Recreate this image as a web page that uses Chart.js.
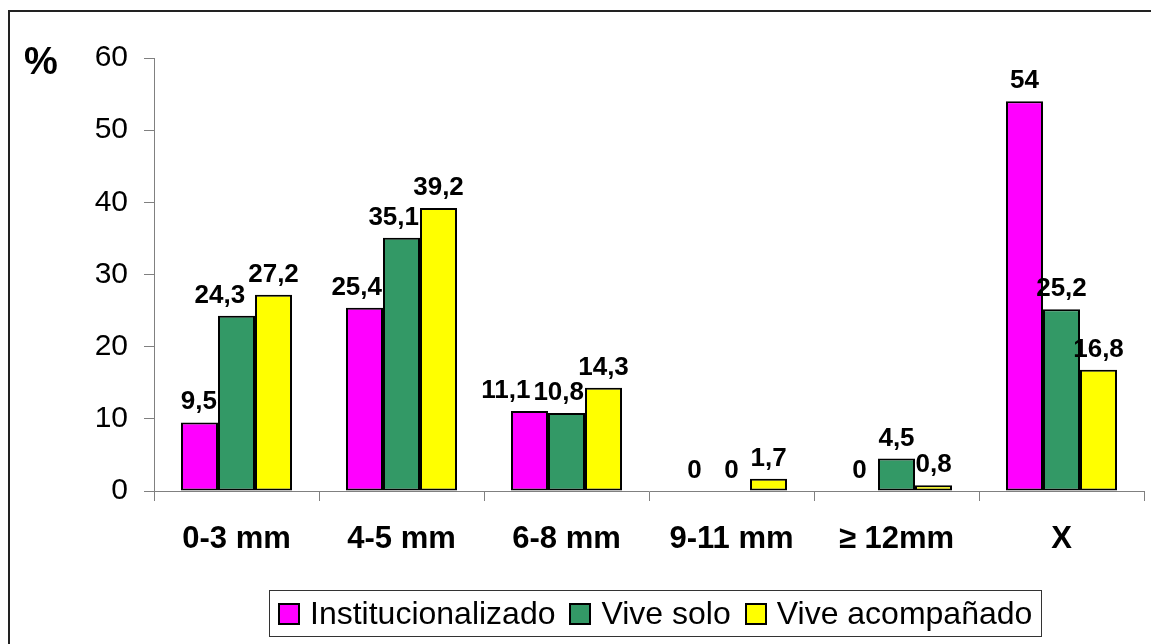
<html>

<head>
    <meta charset="utf-8">
    <title>Distribución por tamaño</title>
    <style>
        html,
        body {
            margin: 0;
            background: #fff;
            font-family: "Liberation Sans", Arial, sans-serif;
        }

        #frame {
            position: absolute;
            left: 8px;
            top: 10px;
            width: 1200px;
            height: 700px;
            border-top: 2px solid #222;
            border-left: 2px solid #222;
        }

        #legend {
            position: absolute;
            left: 269px;
            top: 590px;
            width: 763px;
            height: 45px;
            padding-left: 8px;
            border: 1px solid #333;
            display: flex;
            align-items: center;
            font-size: 32px;
            color: #000;
            white-space: nowrap;
        }

        #legend .box {
            display: inline-block;
            width: 18px;
            height: 18px;
            border: 2px solid #000;
            margin: 0 10px 0 0;
        }

        #legend .item {
            display: flex;
            align-items: center;
            margin-right: 14px;
        }
    </style>
</head>

<body>
    <div id="frame"></div>
    <canvas id="chart" width="1151" height="644" style="position:absolute;left:0;top:0;"></canvas>
    <div id="legend"></div>

    <script src="https://cdn.jsdelivr.net/npm/chart.js@4"></script>
    <script>
        // categorias y valores (%)
        var categories = ['0-3 mm', '4-5 mm', '6-8 mm', '9-11 mm', '\u2265 12mm', 'X']
        var institucionalizado = [9.5, 25.4, 11.1, 0, 0, 54]
        var viveSolo = [24.3, 35.1, 10.8, 0, 4.5, 25.2]
        var viveAcompanado = [27.2, 39.2, 14.3, 1.7, 0.8, 16.8]
        var seriesNames = ['Institucionalizado', 'Vive solo', 'Vive acompañado']
        var seriesColors = ['#FF00FF', '#339966', '#FFFF00']
        var yMin = 0, yMax = 60, yStep = 10

        var font = '"Liberation Sans", Arial, sans-serif'

        // etiquetas encima de cada barra; si chocan con la barra o etiqueta
        // de la derecha se corren a la izquierda
        var valueLabels = {
            id: 'valueLabels',
            afterDatasetsDraw(chart) {
                var ctx = chart.ctx
                ctx.save()
                ctx.font = 'bold 26px ' + font
                ctx.fillStyle = '#000'
                ctx.textAlign = 'center'
                ctx.textBaseline = 'alphabetic'
                chart.data.labels.forEach((c, j) => {
                    var items = chart.data.datasets.map((ds, i) => {
                        var bar = chart.getDatasetMeta(i).data[j]
                        var txt = String(ds.data[j]).replace('.', ',')
                        return { txt: txt, x: bar.x, y: bar.y - 13, w: ctx.measureText(txt).width, bar: bar }
                    })
                    for (var k = items.length - 2; k >= 0; k--) {
                        var a = items[k], b = items[k + 1]
                        var limit = Infinity
                        if (b.bar.y < a.y) limit = b.bar.x - b.bar.width / 2 - 1
                        if (Math.abs(a.y - b.y) < 22) limit = Math.min(limit, b.x - b.w / 2 - 3)
                        if (a.x + a.w / 2 > limit) a.x = limit - a.w / 2
                    }
                    items.forEach(it => ctx.fillText(it.txt, it.x, it.y))
                })
                ctx.restore()
            }
        }

        // el simbolo % arriba a la izquierda
        var percentSign = {
            id: 'percentSign',
            afterDraw(chart) {
                var ctx = chart.ctx
                var y = chart.scales.y.getPixelForValue(yMax)
                ctx.save()
                ctx.font = 'bold 38px ' + font
                ctx.fillStyle = '#000'
                ctx.textAlign = 'center'
                ctx.fillText('%', 41, y + 16)
                ctx.restore()
            }
        }

        var my_bar_chart = new Chart(chart.getContext('2d'), {
            type: 'bar',
            data: {
                labels: categories,
                datasets: [institucionalizado, viveSolo, viveAcompanado].map((d, i) => ({
                    label: seriesNames[i],
                    data: d,
                    backgroundColor: seriesColors[i],
                    borderColor: '#000',
                    borderWidth: 2,
                    borderSkipped: false,
                    categoryPercentage: 0.673,
                    barPercentage: 1
                }))
            },
            options: {
                responsive: false,
                maintainAspectRatio: false,
                animation: false,
                layout: { padding: { left: 0, right: 7, top: 58, bottom: 0 } },
                plugins: {
                    legend: { display: false },
                    tooltip: { enabled: false }
                },
                scales: {
                    x: {
                        afterFit: s => { s.height = 153 },
                        border: { color: '#808080', width: 1 },
                        grid: { drawOnChartArea: false, tickLength: 10, color: '#808080', offset: true },
                        ticks: {
                            padding: 20,
                            color: '#000',
                            font: { family: font, size: 31, weight: 'bold' }
                        }
                    },
                    y: {
                        min: yMin,
                        max: yMax,
                        afterFit: s => { s.width = 154 },
                        border: { color: '#808080', width: 1 },
                        grid: { drawOnChartArea: false, tickLength: 10, color: '#808080' },
                        ticks: {
                            stepSize: yStep,
                            padding: 16,
                            color: '#000',
                            font: { family: font, size: 30 }
                        }
                    }
                }
            },
            plugins: [valueLabels, percentSign]
        });

        // leyenda en html con caja
        seriesNames.forEach((name, i) => {
            var item = document.createElement('span')
            item.className = 'item'
            item.innerHTML = '<span class="box" style="background:' + seriesColors[i] + '"></span>' + name
            legend.appendChild(item)
        })
    </script>
</body>

</html>
